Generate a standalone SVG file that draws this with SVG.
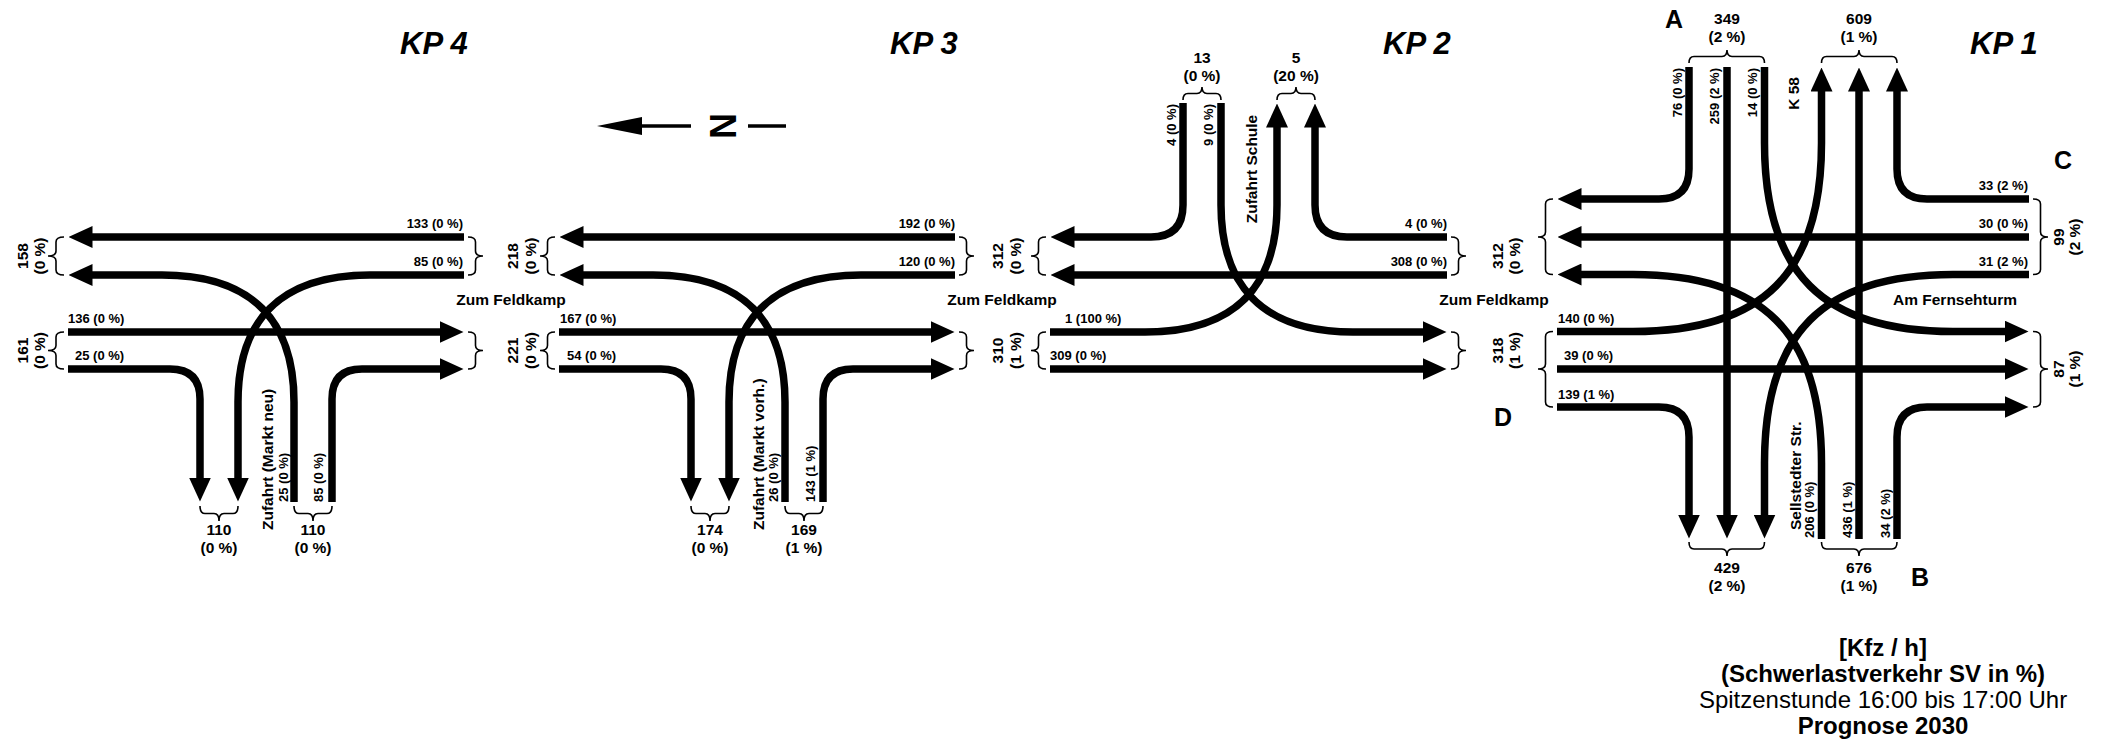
<svg xmlns="http://www.w3.org/2000/svg" width="2101" height="747" viewBox="0 0 2101 747">
<style>
text{font-family:"Liberation Sans",Arial,Helvetica,sans-serif;fill:#000}
.s{font-size:13px;font-weight:bold}
.m{font-size:15.5px;font-weight:bold}
.t{font-size:31px;font-weight:bold;font-style:italic}
.l{font-size:25px;font-weight:bold}
.g{font-size:24px}
.b{font-weight:bold}
.c{text-anchor:middle}
.e{text-anchor:end}
.f{fill:none;stroke:#000;stroke-width:7.5;marker-end:url(#ah)}
.br{fill:none;stroke:#000;stroke-width:1.6}
</style>
<defs>
<marker id="ah" markerUnits="userSpaceOnUse" viewBox="0 0 24 22" markerWidth="24" markerHeight="22" refX="0.5" refY="11" orient="auto"><path d="M0,0 L24,11 L0,22 Z" fill="#000"/></marker>
</defs>
<rect width="2101" height="747" fill="#fff"/>

<g id="connectors">
 <g id="flows-kp4">
  <path class="f" d="M464,237 H92"/>
  <path class="f" d="M464,275 H370 C279,275 238,322 238,402 V478"/>
  <path class="f" d="M68,332 H440"/>
  <path class="f" d="M68,369 H170 Q200,369 200,399 V478"/>
  <path class="f" d="M294,502 V402 C294,322 253,275 162,275 H92"/>
  <path class="f" d="M332,502 V399 Q332,369 362,369 H440"/>
 </g>
 <g id="flows-kp3">
  <path class="f" d="M955,237 H583"/>
  <path class="f" d="M955,275 H861 C770,275 729,322 729,402 V478"/>
  <path class="f" d="M559,332 H931"/>
  <path class="f" d="M559,369 H661 Q691,369 691,399 V478"/>
  <path class="f" d="M785,502 V402 C785,322 744,275 653,275 H583"/>
  <path class="f" d="M823,502 V399 Q823,369 853,369 H931"/>
 </g>
 <g id="flows-kp2">
  <path class="f" d="M1183,103 V205 Q1183,237 1151,237 H1074"/>
  <path class="f" d="M1221,103 V205 C1221,285 1262,332 1353,332 H1423"/>
  <path class="f" d="M1447,237 H1347 Q1315,237 1315,205 V127"/>
  <path class="f" d="M1447,275 H1074"/>
  <path class="f" d="M1050,332 H1145 C1236,332 1277,285 1277,205 V127"/>
  <path class="f" d="M1050,369 H1423"/>
 </g>
 <g id="flows-kp1">
  <path class="f" d="M1689,67 V169 Q1689,199 1659,199 H1581"/>
  <path class="f" d="M1727,67 V515"/>
  <path class="f" d="M1764.5,67 V143 C1764.5,273 1823,331.5 1953,331.5 H2005"/>
  <path class="f" d="M2029,199 H1927 Q1897,199 1897,169 V91"/>
  <path class="f" d="M2029,237 H1581"/>
  <path class="f" d="M2029,274.5 H1953 C1823,274.5 1764.5,333 1764.5,463 V515"/>
  <path class="f" d="M1897,539 V437 Q1897,407 1927,407 H2005"/>
  <path class="f" d="M1859,539 V91"/>
  <path class="f" d="M1821.5,539 V463 C1821.5,333 1763,274.5 1633,274.5 H1581"/>
  <path class="f" d="M1557,407 H1659 Q1689,407 1689,437 V515"/>
  <path class="f" d="M1557,369 H2005"/>
  <path class="f" d="M1557,331.5 H1633 C1763,331.5 1821.5,273 1821.5,143 V91"/>
 </g>
</g>

<g id="north">
 <polygon points="597,126 642,117 642,135" fill="#000"/>
 <line x1="640" y1="126" x2="691" y2="126" stroke="#000" stroke-width="3.5"/>
 <text class="b c" style="font-size:36px" x="736" y="126" transform="rotate(-90 736 126)">N</text>
 <line x1="748" y1="126" x2="786" y2="126" stroke="#000" stroke-width="3.5"/>
</g>

<g id="kp4">
 <text class="t" x="400" y="54">KP 4</text>
 <path class="br" d="M64,237 Q56,237 56,242 V251 Q56,256 48,256 Q56,256 56,261 V270 Q56,275 64,275"/>
 <path class="br" d="M64,332 Q56,332 56,337 V345.5 Q56,350.5 48,350.5 Q56,350.5 56,355.5 V364 Q56,369 64,369"/>
 <path class="br" d="M468,237 Q475.5,237 475.5,242 V251 Q475.5,256 483,256 Q475.5,256 475.5,261 V270 Q475.5,275 468,275"/>
 <path class="br" d="M468,332 Q475.5,332 475.5,337 V345.5 Q475.5,350.5 483,350.5 Q475.5,350.5 475.5,355.5 V364 Q475.5,369 468,369"/>
 <path class="br" d="M200,506 Q200,513.5 205,513.5 H214 Q219,513.5 219,521 Q219,513.5 224,513.5 H233 Q238,513.5 238,506"/>
 <path class="br" d="M294,506 Q294,513.5 299,513.5 H308 Q313,513.5 313,521 Q313,513.5 318,513.5 H327 Q332,513.5 332,506"/>
 <text class="s e" x="463" y="228">133 (0 %)</text>
 <text class="s e" x="463" y="266">85 (0 %)</text>
 <text class="s" x="68" y="323">136 (0 %)</text>
 <text class="s" x="75" y="360">25 (0 %)</text>
 <text class="m c" x="27.5" y="256" transform="rotate(-90 27.5 256)">158</text>
 <text class="m c" x="45" y="256" transform="rotate(-90 45 256)">(0 %)</text>
 <text class="m c" x="27.5" y="350.5" transform="rotate(-90 27.5 350.5)">161</text>
 <text class="m c" x="45" y="350.5" transform="rotate(-90 45 350.5)">(0 %)</text>
 <text class="m c" x="219" y="535">110</text>
 <text class="m c" x="219" y="553">(0 %)</text>
 <text class="m c" x="313" y="535">110</text>
 <text class="m c" x="313" y="553">(0 %)</text>
 <text class="m" x="272.5" y="530" transform="rotate(-90 272.5 530)">Zufahrt (Markt neu)</text>
 <text class="s" x="287.5" y="502" transform="rotate(-90 287.5 502)">25 (0 %)</text>
 <text class="s" x="322.5" y="502" transform="rotate(-90 322.5 502)">85 (0 %)</text>
</g>

<g id="between-4-3">
 <text class="m c" x="517.5" y="256" transform="rotate(-90 517.5 256)">218</text>
 <text class="m c" x="536" y="256" transform="rotate(-90 536 256)">(0 %)</text>
 <text class="m c" x="517.5" y="350.5" transform="rotate(-90 517.5 350.5)">221</text>
 <text class="m c" x="536" y="350.5" transform="rotate(-90 536 350.5)">(0 %)</text>
 <text class="m c" x="511" y="304.5">Zum Feldkamp</text>
</g>

<g id="kp3">
 <text class="t" x="890" y="54">KP 3</text>
 <path class="br" d="M555,237 Q547.5,237 547.5,242 V251 Q547.5,256 540,256 Q547.5,256 547.5,261 V270 Q547.5,275 555,275"/>
 <path class="br" d="M555,332 Q547.5,332 547.5,337 V345.5 Q547.5,350.5 540,350.5 Q547.5,350.5 547.5,355.5 V364 Q547.5,369 555,369"/>
 <path class="br" d="M959,237 Q966.5,237 966.5,242 V251 Q966.5,256 974,256 Q966.5,256 966.5,261 V270 Q966.5,275 959,275"/>
 <path class="br" d="M959,332 Q966.5,332 966.5,337 V345.5 Q966.5,350.5 974,350.5 Q966.5,350.5 966.5,355.5 V364 Q966.5,369 959,369"/>
 <path class="br" d="M691,506 Q691,513.5 696,513.5 H705 Q710,513.5 710,521 Q710,513.5 715,513.5 H724 Q729,513.5 729,506"/>
 <path class="br" d="M785,506 Q785,513.5 790,513.5 H799 Q804,513.5 804,521 Q804,513.5 809,513.5 H818 Q823,513.5 823,506"/>
 <text class="s e" x="955" y="228">192 (0 %)</text>
 <text class="s e" x="955" y="266">120 (0 %)</text>
 <text class="s" x="560" y="323">167 (0 %)</text>
 <text class="s" x="567" y="360">54 (0 %)</text>
 <text class="m c" x="710" y="535">174</text>
 <text class="m c" x="710" y="553">(0 %)</text>
 <text class="m c" x="804" y="535">169</text>
 <text class="m c" x="804" y="553">(1 %)</text>
 <text class="m" x="763.5" y="530" transform="rotate(-90 763.5 530)">Zufahrt (Markt vorh.)</text>
 <text class="s" x="777.5" y="502" transform="rotate(-90 777.5 502)">26 (0 %)</text>
 <text class="s" x="814.5" y="502" transform="rotate(-90 814.5 502)">143 (1 %)</text>
</g>

<g id="between-3-2">
 <text class="m c" x="1002.5" y="256" transform="rotate(-90 1002.5 256)">312</text>
 <text class="m c" x="1021" y="256" transform="rotate(-90 1021 256)">(0 %)</text>
 <text class="m c" x="1002.5" y="350.5" transform="rotate(-90 1002.5 350.5)">310</text>
 <text class="m c" x="1021" y="350.5" transform="rotate(-90 1021 350.5)">(1 %)</text>
 <text class="m c" x="1002" y="304.5">Zum Feldkamp</text>
</g>

<g id="kp2">
 <text class="t" x="1383" y="54">KP 2</text>
 <path class="br" d="M1046,237 Q1038.5,237 1038.5,242 V251 Q1038.5,256 1031,256 Q1038.5,256 1038.5,261 V270 Q1038.5,275 1046,275"/>
 <path class="br" d="M1046,332 Q1038.5,332 1038.5,337 V345.5 Q1038.5,350.5 1031,350.5 Q1038.5,350.5 1038.5,355.5 V364 Q1038.5,369 1046,369"/>
 <path class="br" d="M1451,237 Q1458.5,237 1458.5,242 V251 Q1458.5,256 1466,256 Q1458.5,256 1458.5,261 V270 Q1458.5,275 1451,275"/>
 <path class="br" d="M1451,332 Q1458.5,332 1458.5,337 V345.5 Q1458.5,350.5 1466,350.5 Q1458.5,350.5 1458.5,355.5 V364 Q1458.5,369 1451,369"/>
 <path class="br" d="M1183,100 Q1183,93.5 1188,93.5 H1197 Q1202,93.5 1202,87 Q1202,93.5 1207,93.5 H1216 Q1221,93.5 1221,100"/>
 <path class="br" d="M1277,100 Q1277,93.5 1282,93.5 H1291 Q1296,93.5 1296,87 Q1296,93.5 1301,93.5 H1310 Q1315,93.5 1315,100"/>
 <text class="m c" x="1202" y="63">13</text>
 <text class="m c" x="1202" y="81">(0 %)</text>
 <text class="m c" x="1296" y="63">5</text>
 <text class="m c" x="1296" y="81">(20 %)</text>
 <text class="s e" x="1175.5" y="104" transform="rotate(-90 1175.5 104)">4 (0 %)</text>
 <text class="s e" x="1212.5" y="104" transform="rotate(-90 1212.5 104)">9 (0 %)</text>
 <text class="m c" x="1256.5" y="169" transform="rotate(-90 1256.5 169)">Zufahrt Schule</text>
 <text class="s e" x="1447" y="228">4 (0 %)</text>
 <text class="s e" x="1447" y="266">308 (0 %)</text>
 <text class="s" x="1065" y="323">1 (100 %)</text>
 <text class="s" x="1050" y="360">309 (0 %)</text>
</g>

<g id="between-2-1">
 <text class="m c" x="1502.5" y="256" transform="rotate(-90 1502.5 256)">312</text>
 <text class="m c" x="1520" y="256" transform="rotate(-90 1520 256)">(0 %)</text>
 <text class="m c" x="1502.5" y="350.5" transform="rotate(-90 1502.5 350.5)">318</text>
 <text class="m c" x="1520" y="350.5" transform="rotate(-90 1520 350.5)">(1 %)</text>
 <text class="m c" x="1494" y="304.5">Zum Feldkamp</text>
</g>

<g id="kp1">
 <text class="t" x="1970" y="54">KP 1</text>
 <text class="l c" x="1674" y="28">A</text>
 <text class="l c" x="2063" y="169">C</text>
 <text class="l c" x="1503" y="426">D</text>
 <text class="l c" x="1920" y="586">B</text>
 <path class="br" d="M1553,199 Q1545.5,199 1545.5,204 V232 Q1545.5,237 1538,237 Q1545.5,237 1545.5,242 V269.5 Q1545.5,274.5 1553,274.5"/>
 <path class="br" d="M1553,331.5 Q1545.5,331.5 1545.5,336.5 V364 Q1545.5,369 1538,369 Q1545.5,369 1545.5,374 V402 Q1545.5,407 1553,407"/>
 <path class="br" d="M2033,199 Q2040.5,199 2040.5,204 V232 Q2040.5,237 2048,237 Q2040.5,237 2040.5,242 V269.5 Q2040.5,274.5 2033,274.5"/>
 <path class="br" d="M2033,331.5 Q2040.5,331.5 2040.5,336.5 V364 Q2040.5,369 2048,369 Q2040.5,369 2040.5,374 V402 Q2040.5,407 2033,407"/>
 <path class="br" d="M1689,63 Q1689,56.5 1694,56.5 H1722 Q1727,56.5 1727,50 Q1727,56.5 1732,56.5 H1759.5 Q1764.5,56.5 1764.5,63"/>
 <path class="br" d="M1821.5,63 Q1821.5,56.5 1826.5,56.5 H1854 Q1859,56.5 1859,50 Q1859,56.5 1864,56.5 H1892 Q1897,56.5 1897,63"/>
 <path class="br" d="M1689,542 Q1689,549 1694,549 H1722 Q1727,549 1727,556 Q1727,549 1732,549 H1759.5 Q1764.5,549 1764.5,542"/>
 <path class="br" d="M1821.5,542 Q1821.5,549 1826.5,549 H1854 Q1859,549 1859,556 Q1859,549 1864,549 H1892 Q1897,549 1897,542"/>
 <text class="m c" x="1727" y="24">349</text>
 <text class="m c" x="1727" y="42">(2 %)</text>
 <text class="m c" x="1859" y="24">609</text>
 <text class="m c" x="1859" y="42">(1 %)</text>
 <text class="m c" x="1727" y="573">429</text>
 <text class="m c" x="1727" y="591">(2 %)</text>
 <text class="m c" x="1859" y="573">676</text>
 <text class="m c" x="1859" y="591">(1 %)</text>
 <text class="s e" x="1681.5" y="68" transform="rotate(-90 1681.5 68)">76 (0 %)</text>
 <text class="s e" x="1718.5" y="68" transform="rotate(-90 1718.5 68)">259 (2 %)</text>
 <text class="s e" x="1756.5" y="68" transform="rotate(-90 1756.5 68)">14 (0 %)</text>
 <text class="m e" x="1798.5" y="77" transform="rotate(-90 1798.5 77)">K 58</text>
 <text class="m" x="1800.5" y="530" transform="rotate(-90 1800.5 530)">Sellstedter Str.</text>
 <text class="s" x="1813.5" y="538" transform="rotate(-90 1813.5 538)">206 (0 %)</text>
 <text class="s" x="1851.5" y="538" transform="rotate(-90 1851.5 538)">436 (1 %)</text>
 <text class="s" x="1889.5" y="538" transform="rotate(-90 1889.5 538)">34 (2 %)</text>
 <text class="s" x="1558" y="323">140 (0 %)</text>
 <text class="s" x="1564" y="360">39 (0 %)</text>
 <text class="s" x="1558" y="399">139 (1 %)</text>
 <text class="s e" x="2028" y="190">33 (2 %)</text>
 <text class="s e" x="2028" y="228">30 (0 %)</text>
 <text class="s e" x="2028" y="266">31 (2 %)</text>
 <text class="m" x="1893" y="304.5">Am Fernsehturm</text>
 <text class="m c" x="2063.5" y="237" transform="rotate(-90 2063.5 237)">99</text>
 <text class="m c" x="2080" y="237" transform="rotate(-90 2080 237)">(2 %)</text>
 <text class="m c" x="2063.5" y="369" transform="rotate(-90 2063.5 369)">87</text>
 <text class="m c" x="2080" y="369" transform="rotate(-90 2080 369)">(1 %)</text>
</g>

<g id="legend">
 <text class="g b c" x="1883" y="656">[Kfz / h]</text>
 <text class="g b c" x="1883" y="682">(Schwerlastverkehr SV in %)</text>
 <text class="g c" x="1883" y="708">Spitzenstunde 16:00 bis 17:00 Uhr</text>
 <text class="g b c" x="1883" y="734">Prognose 2030</text>
</g>
</svg>
